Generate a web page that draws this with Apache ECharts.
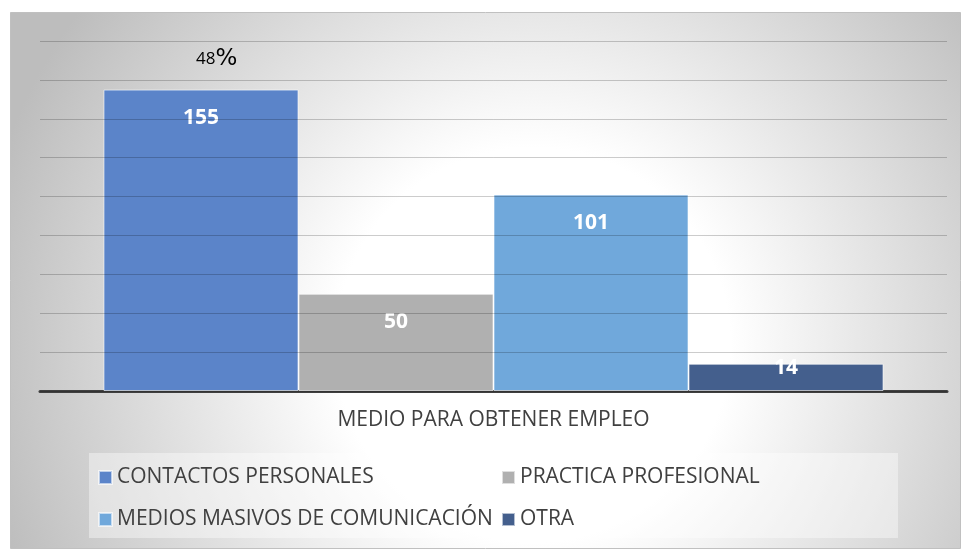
<!DOCTYPE html>
<html>
<head>
<meta charset="utf-8">
<script src="https://cdn.jsdelivr.net/npm/echarts@6/dist/echarts.min.js"></script>
<style>
  html, body { margin: 0; padding: 0; background: #fff; }
  #chart { width: 962px; height: 550px; }
</style>
</head>
<body>
<div id="chart"></div>
<script>
// data
const category = ['MEDIO PARA OBTENER EMPLEO'];
const seriesNames = ['CONTACTOS PERSONALES', 'PRACTICA PROFESIONAL', 'MEDIOS MASIVOS DE COMUNICACIÓN', 'OTRA'];
const seriesValues = [155, 50, 101, 14];
const colors = ['#5b84c9', '#b0b0b0', '#70a8db', '#445f8d'];

const total = seriesValues.reduce((a, b) => a + b, 0);
const pct = Math.round(seriesValues[0] / total * 100);

const chart = echarts.init(document.getElementById('chart'));
const font = '"Open Sans", "Noto Sans", sans-serif';

const series = seriesNames.map((name, i) => ({
  name: name,
  type: 'bar',
  data: [seriesValues[i]],
  barGap: '0%',
  barCategoryGap: '14%',
  itemStyle: {
    color: colors[i],
    borderColor: 'rgba(255,255,255,0.6)',
    borderWidth: 1
  },
  label: {
    show: true,
    position: i === 3 ? ['50%', 4] : ['50%', 28],
    align: 'center',
    verticalAlign: 'middle',
    color: '#fff',
    fontWeight: 'bold',
    fontSize: 21,
    fontFamily: font
  }
}));

const legendText = { color: '#404040', fontSize: 21, fontFamily: font };

const option = {
  animation: false,
  color: colors,
  grid: { left: 40, right: 15, top: 41, bottom: 159 },
  xAxis: {
    type: 'category',
    data: category,
    axisTick: { show: false },
    axisLine: { lineStyle: { color: '#404040', width: 3 } },
    axisLabel: { color: '#404040', fontSize: 21, fontFamily: font, margin: 19 }
  },
  yAxis: {
    type: 'value',
    min: 0,
    max: 180,
    interval: 20,
    z: 3,
    axisLabel: { show: false },
    axisLine: { show: false },
    axisTick: { show: false },
    splitLine: { lineStyle: { color: 'rgba(0,0,0,0.2)', width: 1 } }
  },
  legend: [
    {
      orient: 'vertical',
      left: 93, top: 462,
      itemWidth: 13, itemHeight: 13, itemGap: 21,
      icon: 'rect',
      data: [seriesNames[0], seriesNames[2]],
      textStyle: legendText
    },
    {
      orient: 'vertical',
      left: 496, top: 462,
      itemWidth: 13, itemHeight: 13, itemGap: 21,
      icon: 'rect',
      data: [seriesNames[1], seriesNames[3]],
      textStyle: legendText
    }
  ],
  graphic: [
    {
      type: 'rect',
      z: -10,
      silent: true,
      shape: { x: 10.5, y: 12.5, width: 950, height: 536 },
      style: {
        fill: {
          type: 'radial', x: 0.55, y: 0.62, r: 1.05,
          colorStops: [
            { offset: 0, color: '#ffffff' },
            { offset: 0.35, color: '#ffffff' },
            { offset: 1, color: '#bdbdbd' }
          ]
        },
        stroke: '#c0c0c0',
        lineWidth: 1
      }
    },
    {
      type: 'rect',
      z: -9,
      silent: true,
      shape: { x: 89, y: 453, width: 809, height: 85 },
      style: { fill: 'rgba(255,255,255,0.4)' }
    },
    {
      type: 'text',
      z: 10,
      left: 196,
      top: 48,
      style: {
        text: '{a|' + pct + '}{b|%}',
        rich: {
          a: { fontSize: 17, fontFamily: font, color: '#000' },
          b: { fontSize: 23, fontFamily: '"DejaVu Sans", sans-serif', color: '#000' }
        }
      }
    }
  ],
  series: series
};

chart.setOption(option);
</script>
</body>
</html>
